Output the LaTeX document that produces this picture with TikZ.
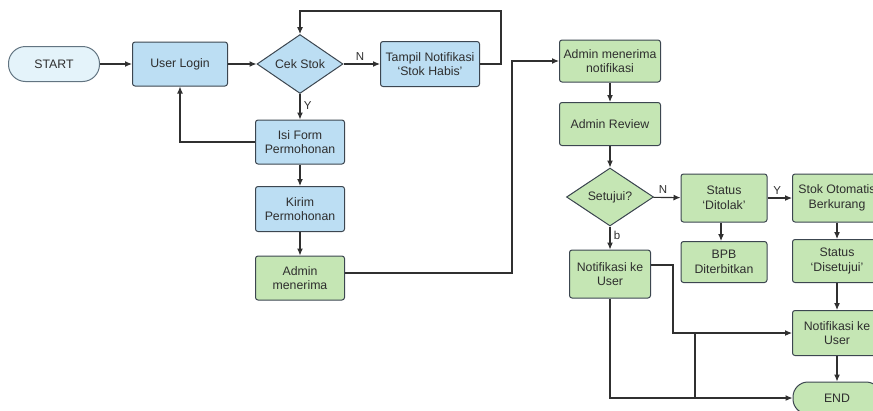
\documentclass[tikz,border=0pt]{standalone}
\usepackage{fontspec}
\setmainfont{Liberation Sans}
\usetikzlibrary{shapes.geometric,arrows.meta,positioning}
\definecolor{bluefill}{HTML}{BCDEF3}
\definecolor{startfill}{HTML}{E4F3FA}
\definecolor{greenfill}{HTML}{C5E6B4}
\definecolor{edge}{HTML}{3C4650}
\definecolor{lineclr}{HTML}{303030}
\tikzset{
  every node/.style={font=\fontsize{12.3}{14.5}\selectfont, text=black!82, align=center},
  bluebox/.style={draw=edge, fill=bluefill, line width=1pt, rounded corners=2.5pt, inner sep=1pt},
  greenbox/.style={draw=edge, fill=greenfill, line width=1pt, rounded corners=2.5pt, inner sep=1pt},
  bluedia/.style={diamond, draw=edge, fill=bluefill, line width=1pt, inner sep=0pt},
  greendia/.style={diamond, draw=edge, fill=greenfill, line width=1pt, inner sep=0pt},
  conn/.style={draw=lineclr, line width=1.1pt, -{Latex[length=7pt,width=6pt]}},
  plain/.style={draw=lineclr, line width=1.1pt},
  lbl/.style={font=\fontsize{11.5}{13}\selectfont}
}
\begin{document}
\begin{tikzpicture}[x=1pt,y=-1pt]
\useasboundingbox (0,0) rectangle (873,410);
% left column
\node[draw=edge!70!bluefill, fill=startfill, line width=1pt, rounded corners=17pt, minimum width=91pt, minimum height=35pt] (start) at (54,64) {START};
\node[bluebox, minimum width=95pt, minimum height=44pt] (login) at (180,64) {User Login};
\node[bluedia, minimum width=86pt, minimum height=57pt] (cek) at (300,64) {Cek Stok};
\node[bluebox, minimum width=99pt, minimum height=45pt] (tampil) at (430,64) {Tampil Notifikasi\\`Stok Habis'};
\node[bluebox, minimum width=89pt, minimum height=44pt] (isi) at (300,142) {Isi Form\\Permohonan};
\node[bluebox, minimum width=89pt, minimum height=45pt] (kirim) at (300,209) {Kirim\\Permohonan};
\node[greenbox, minimum width=89pt, minimum height=44pt] (adm) at (300,278) {Admin\\menerima};
% right part
\node[greenbox, minimum width=101pt, minimum height=42pt] (notifadm) at (610,61) {Admin menerima\\notifikasi};
\node[greenbox, minimum width=101pt, minimum height=43pt] (review) at (610,124) {Admin Review};
\node[greendia, minimum width=87pt, minimum height=58pt] (setuju) at (610,197) {Setujui?};
\node[greenbox, minimum width=86pt, minimum height=48pt] (tolak) at (724,198) {Status\\`Ditolak'};
\node[greenbox, minimum width=89pt, minimum height=48pt] (kurang) at (837,198) {Stok Otomatis\\Berkurang};
\node[greenbox, minimum width=86pt, minimum height=41pt] (bpb) at (724,262) {BPB\\Diterbitkan};
\node[greenbox, minimum width=89pt, minimum height=43pt] (disetujui) at (837,261) {Status\\`Disetujui'};
\node[greenbox, minimum width=81pt, minimum height=48pt] (notifl) at (610,274) {Notifikasi ke\\User};
\node[greenbox, minimum width=89pt, minimum height=45pt] (notifr) at (837,333) {Notifikasi ke\\User};
\node[draw=edge, fill=greenfill, line width=1pt, rounded corners=15pt, minimum width=88pt, minimum height=32pt] (end) at (837,398) {END};
% connectors
\draw[conn] (start) -- (login);
\draw[conn] (login) -- (cek);
\draw[conn] (cek) -- node[lbl, above, pos=0.45] {N} (tampil);
\draw[conn] (tampil.east) -- ++(21,0) |- (300,11) -- (cek.north);
\draw[conn] (cek) -- node[lbl, right, pos=0.45] {Y} (isi);
\draw[conn] (isi.west) -| (login.south);
\draw[conn] (isi) -- (kirim);
\draw[conn] (kirim) -- (adm);
\draw[conn] (adm.east) ++(0,-5) coordinate (admout) -- (512,273) |- (notifadm.west);
\draw[conn] (notifadm) -- (review);
\draw[conn] (review) -- (setuju);
\draw[conn] (setuju) -- node[lbl, above, pos=0.35] {N} (tolak);
\draw[conn] (tolak) -- node[lbl, above, pos=0.4] {Y} (kurang);
\draw[conn] (setuju) -- node[lbl, right, pos=0.4] {b} (notifl);
\draw[conn] ([xshift=-3pt]tolak.south) -- ([xshift=-3pt]bpb.north);
\draw[conn] (kurang) -- (disetujui);
\draw[conn] (disetujui) -- (notifr);
\draw[conn] (notifr) -- (end);
\draw[conn] (notifl.east) ++(0,-9) -- ++(22,0) |- (notifr.west);
\draw[conn] (notifl.south) |- (end.west);
\draw[plain] (695,334) -- (695,398);
\end{tikzpicture}
\end{document}
